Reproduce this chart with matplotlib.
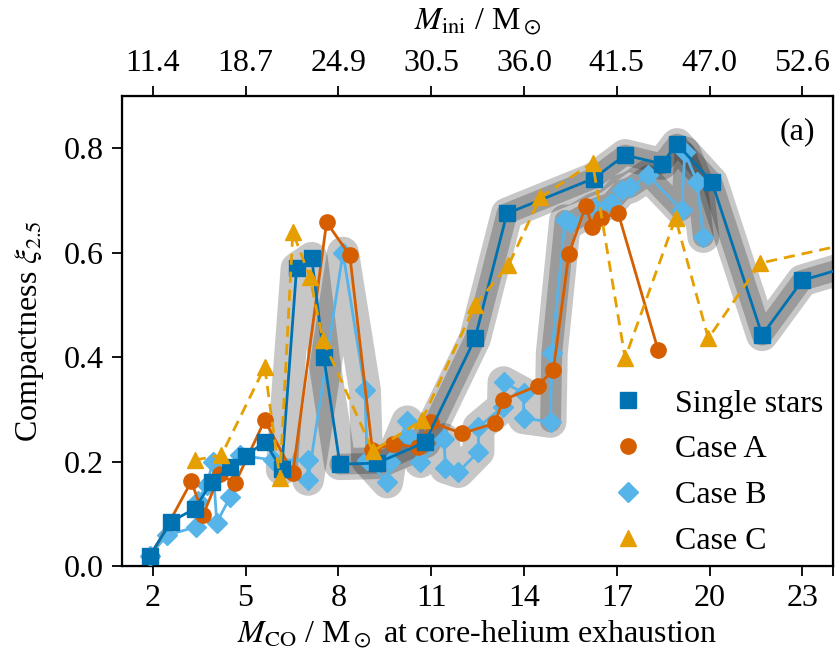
import matplotlib
matplotlib.use("Agg")
import matplotlib.pyplot as plt
from matplotlib.lines import Line2D

plt.rcParams['font.family'] = 'serif'
plt.rcParams['font.serif'] = ['Liberation Serif', 'DejaVu Serif']
plt.rcParams['mathtext.fontset'] = 'stix'
plt.rcParams['font.size'] = 23

# data (M_CO, compactness)
single_x = [1.9, 2.6, 3.36, 3.9, 4.5, 5.0, 5.62, 6.17, 6.65, 7.14, 7.53, 8.05,
            9.25, 10.8, 12.42, 13.45, 16.25, 17.27, 18.45, 18.95, 20.08, 21.7,
            23.0, 25.0]
single_y = [0.02, 0.085, 0.11, 0.16, 0.19, 0.21, 0.238, 0.185, 0.57, 0.59, 0.40, 0.195,
            0.197, 0.237, 0.436, 0.675, 0.742, 0.787, 0.77, 0.808, 0.735, 0.442,
            0.547, 0.582]

caseA_x = [1.95, 3.25, 3.63, 4.17, 4.66, 5.62, 6.53, 7.62, 8.37, 9.1, 9.77, 10.58,
           11.0, 12.0, 13.05, 13.33, 14.44, 14.95, 15.45, 16.0, 16.2, 16.5, 17.05,
           18.34]
caseA_y = [0.02, 0.162, 0.098, 0.176, 0.158, 0.279, 0.178, 0.658, 0.595, 0.222, 0.234,
           0.227, 0.275, 0.254, 0.273, 0.318, 0.345, 0.375, 0.597, 0.69, 0.65, 0.667,
           0.675, 0.413]

caseB_x = [1.9, 2.47, 3.4, 3.45, 3.75, 3.94, 4.07, 4.5, 4.82, 5.89, 7.02, 7.02, 8.15,
           8.86, 8.93, 9.58, 9.68, 10.23, 10.3, 10.65, 11.42, 11.46, 11.88, 12.53,
           12.53, 13.32, 13.34, 13.99, 13.99, 14.86, 14.9, 15.33, 15.5, 16.3, 16.8,
           17.17, 17.44, 18.02, 19.1, 19.2, 19.6, 19.8]
caseB_y = [0.02, 0.059, 0.075, 0.125, 0.155, 0.199, 0.083, 0.132, 0.212, 0.203, 0.203,
           0.165, 0.60, 0.337, 0.203, 0.160, 0.199, 0.277, 0.247, 0.199, 0.243, 0.188,
           0.18, 0.219, 0.266, 0.305, 0.352, 0.331, 0.283, 0.276, 0.408, 0.662, 0.658,
           0.685, 0.695, 0.72, 0.725, 0.748, 0.681, 0.792, 0.735, 0.63]

caseC_x = [3.36, 4.22, 5.62, 6.11, 6.53, 7.08, 7.5, 9.12, 10.7, 12.42, 13.5, 14.53,
           16.22, 17.27, 18.9, 19.96, 21.64, 25.5]
caseC_y = [0.203, 0.212, 0.381, 0.168, 0.639, 0.553, 0.433, 0.22, 0.279, 0.50, 0.576,
           0.706, 0.772, 0.398, 0.666, 0.436, 0.58, 0.63]

bottom_ticks = [2, 5, 8, 11, 14, 17, 20, 23]
top_labels = ['11.4', '18.7', '24.9', '30.5', '36.0', '41.5', '47.0', '52.6']

c_single = '#0072B2'
c_a = '#D55E00'
c_b = '#56B4E9'
c_c = '#E69F00'

fig = plt.figure(figsize=(8.4, 6.62), dpi=100)
ax = fig.add_axes([0.145, 0.145, 0.847, 0.71])

# grey halos behind the tracks
halo = dict(color='k', alpha=0.22, solid_capstyle='round', solid_joinstyle='round', zorder=1)
ax.plot(single_x[7:], single_y[7:], lw=23, **halo)
ax.plot(single_x[11:], single_y[11:], lw=15, **halo)
ax.plot(caseB_x[10:], caseB_y[10:], lw=23, **halo)
ax.plot(caseB_x[29:], caseB_y[29:], lw=15, **halo)

ax.plot(single_x, single_y, '-s', color=c_single, lw=2, ms=11, zorder=5)
ax.plot(caseA_x, caseA_y, '-o', color=c_a, lw=2, ms=11, zorder=4)
ax.plot(caseB_x, caseB_y, '-D', color=c_b, lw=2, ms=10.5, zorder=3)
ax.plot(caseC_x, caseC_y, '--^', color=c_c, lw=2, ms=11, dashes=(4, 2.5), zorder=6)

ax.set_xlim(1, 24)
ax.set_ylim(0, 0.9)
ax.set_xticks(bottom_ticks)
ax.set_yticks([0.0, 0.2, 0.4, 0.6, 0.8])
ax.tick_params(axis='both', direction='out', length=7, width=1.3, pad=6)
ax.tick_params(axis='y', right=True)
for sp in ax.spines.values():
    sp.set_linewidth(1.6)
# right ticks point inward
for t in ax.yaxis.get_major_ticks():
    t.tick2line.set_marker(3)
ax.set_xlabel(r'$M_\mathrm{CO}$ / M$_\odot$ at core-helium exhaustion', labelpad=4)
ax.set_ylabel(r'Compactness $\xi_{2.5}$', labelpad=13)

top = ax.twiny()
top.set_xlim(ax.get_xlim())
top.set_xticks(bottom_ticks)
top.set_xticklabels(top_labels)
top.tick_params(axis='x', direction='out', length=7, width=1.3, pad=6)
top.set_xlabel(r'$M_\mathrm{ini}$ / M$_\odot$', labelpad=14)

ax.text(0.975, 0.925, '(a)', transform=ax.transAxes, ha='right', va='center')

handles = [
    Line2D([], [], ls='none', marker='s', color=c_single, ms=11),
    Line2D([], [], ls='none', marker='o', color=c_a, ms=11),
    Line2D([], [], ls='none', marker='D', color=c_b, ms=10.5),
    Line2D([], [], ls='none', marker='^', color=c_c, ms=11),
]
ax.legend(handles, ['Single stars', 'Case A', 'Case B', 'Case C'], loc='lower right',
          frameon=False, handlelength=1.0, handletextpad=1.0, labelspacing=0.52,
          borderaxespad=0.0, borderpad=0.3)

fig.savefig('out.png', dpi=100)
